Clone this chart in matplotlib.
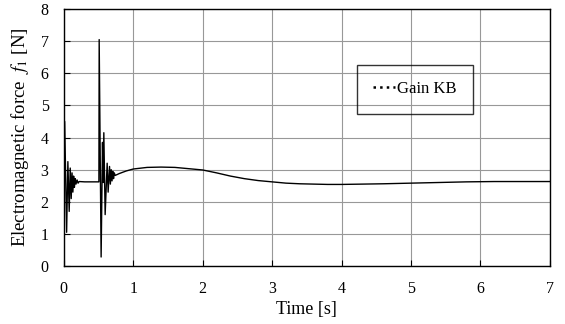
import numpy as np
import matplotlib.pyplot as plt
from matplotlib.lines import Line2D

plt.rcParams['font.family'] = 'Liberation Serif'
plt.rcParams['mathtext.fontset'] = 'stix'

# time [s] and electromagnetic force f1 [N]
t = [0.000, 0.012, 0.040, 0.058, 0.077, 0.092, 0.106, 0.118, 0.130, 0.141,
     0.152, 0.163, 0.175, 0.190, 0.205, 0.220, 0.300, 0.500,
     0.505, 0.509, 0.537, 0.557, 0.566, 0.576, 0.595, 0.624, 0.638, 0.658,
     0.670, 0.682, 0.694, 0.705, 0.716, 0.726, 0.740, 0.800,
     0.900, 1.000, 1.200, 1.400, 1.600, 1.800, 2.000, 2.200, 2.400, 2.600,
     2.800, 3.000, 3.200, 3.400, 3.600, 3.800, 4.000, 4.300, 4.600, 5.000,
     5.400, 5.800, 6.200, 6.600, 7.000]
f1 = [2.00, 4.50, 1.05, 3.25, 1.70, 3.05, 2.10, 2.90, 2.30, 2.80,
      2.45, 2.72, 2.55, 2.68, 2.58, 2.63, 2.62, 2.62,
      2.62, 7.05, 0.28, 3.85, 2.60, 4.15, 1.60, 3.20, 2.30, 3.10,
      2.55, 3.00, 2.65, 2.95, 2.72, 2.90, 2.82, 2.88,
      2.96, 3.02, 3.07, 3.08, 3.07, 3.03, 2.99, 2.90, 2.80, 2.72,
      2.66, 2.62, 2.58, 2.56, 2.55, 2.54, 2.54, 2.55, 2.56, 2.58,
      2.60, 2.62, 2.63, 2.63, 2.63]
xticks = [0, 1, 2, 3, 4, 5, 6, 7]
yticks = [0, 1, 2, 3, 4, 5, 6, 7, 8]

fig = plt.figure(figsize=(5.65, 3.24), dpi=100)
ax = fig.add_axes([0.113, 0.179, 0.860, 0.793])

ax.plot(t, f1, color='black', linewidth=1.0)

ax.set_xlim(0, 7)
ax.set_ylim(0, 8)
ax.set_xticks(xticks)
ax.set_yticks(yticks)
ax.grid(True, color='#989898', linewidth=0.8)
ax.tick_params(direction='in', length=4, labelsize=11.5, color='black')
ax.tick_params(axis='x', pad=11)
ax.tick_params(axis='y', pad=11)
for s in ax.spines.values():
    s.set_linewidth(1.0)
    s.set_color('black')

ax.set_xlabel('Time [s]', fontsize=13, labelpad=3)
ax.set_ylabel('Electromagnetic force  $f_1$ [N]', fontsize=13.5, labelpad=7)

proxy = Line2D([0], [0], color='black', linestyle=':', linewidth=1.8)
leg = ax.legend([proxy], ['Gain KB'], loc='center',
                bbox_to_anchor=(0.722, 0.688), fontsize=12,
                frameon=True, fancybox=False, borderpad=1.0,
                handlelength=1.3, handletextpad=0.1, borderaxespad=0)
leg.get_frame().set_edgecolor('black')
leg.get_frame().set_linewidth(1.0)
leg.get_frame().set_facecolor('none')

fig.savefig('out.png', dpi=100)
